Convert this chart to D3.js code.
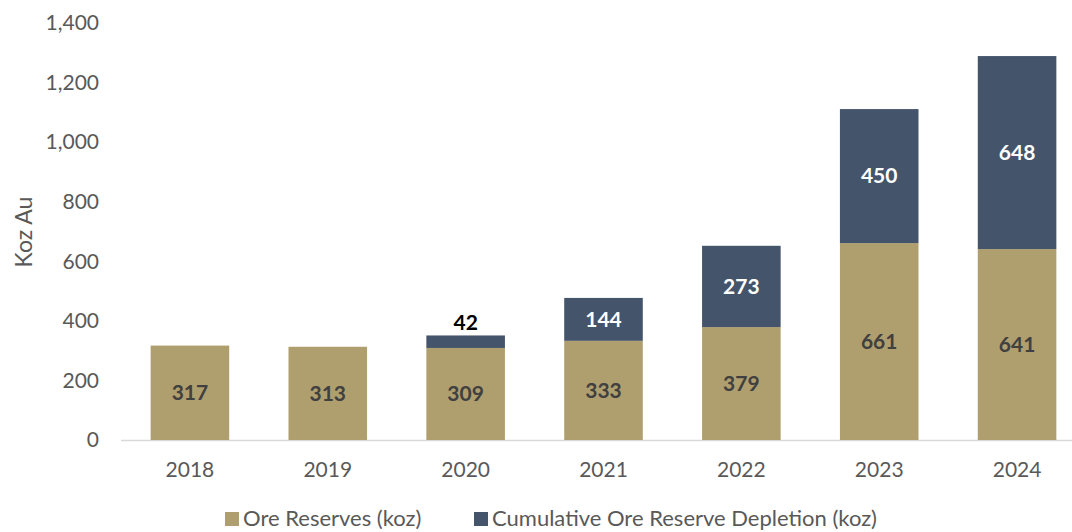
<!DOCTYPE html>
<html><head><meta charset="utf-8">
<script src="https://cdn.jsdelivr.net/npm/d3@7"></script>
<style>body{margin:0;background:#fff}svg{display:block}text{font-family:Lato,"Open Sans",sans-serif}</style>
</head><body><svg id="c" width="1072" height="532"></svg>
<script>
const years = ["2018","2019","2020","2021","2022","2023","2024"];
const oreReserves = [317,313,309,333,379,661,641];
const depletion = [null,null,42,144,273,450,648];
const yTicks = [0,200,400,600,800,1000,1200,1400];
const seriesNames = ["Ore Reserves (koz)","Cumulative Ore Reserve Depletion (koz)"];

const svg = d3.select("#c");
const x = d3.scaleBand().domain(years).range([121,1086]).paddingInner(0.43).paddingOuter(0.215);
const y = d3.scaleLinear().domain([0,1400]).range([440,23]);
const tan = "#B09F6E", navy = "#44546A";

svg.append("line").attr("x1",121).attr("x2",1072).attr("y1",y(0)+0.5).attr("y2",y(0)+0.5).attr("stroke","#D9D9D9").attr("stroke-width",1.5);

svg.selectAll(".yt").data(yTicks).enter().append("text")
  .attr("x",99).attr("y",d=>y(d)).attr("dy","0.35em").attr("text-anchor","end")
  .attr("font-size",21).attr("fill","#595959").text(d=>d3.format(",")(d));

svg.selectAll(".xt").data(years).enter().append("text")
  .attr("x",d=>x(d)+x.bandwidth()/2).attr("y",470).attr("dy","0.35em").attr("text-anchor","middle")
  .attr("font-size",21).attr("fill","#595959").text(d=>d);

svg.append("text").attr("transform","translate(32,232) rotate(-90)").attr("text-anchor","middle")
  .attr("font-size",23).attr("fill","#595959").text("Koz Au");

const data = years.map((yr,i)=>({yr, ore:oreReserves[i], dep:depletion[i]}));
svg.selectAll(".ore").data(data).enter().append("rect")
  .attr("x",d=>x(d.yr)).attr("width",x.bandwidth())
  .attr("y",d=>y(d.ore)).attr("height",d=>y(0)-y(d.ore)).attr("fill",tan);
svg.selectAll(".dep").data(data.filter(d=>d.dep!=null)).enter().append("rect")
  .attr("x",d=>x(d.yr)).attr("width",x.bandwidth())
  .attr("y",d=>y(d.ore+d.dep)).attr("height",d=>y(d.ore)-y(d.ore+d.dep)).attr("fill",navy);

svg.selectAll(".ol").data(data).enter().append("text")
  .attr("x",d=>x(d.yr)+x.bandwidth()/2).attr("y",d=>y(d.ore/2)).attr("dy","0.35em")
  .attr("text-anchor","middle").attr("font-size",21).attr("font-weight","bold").attr("fill","#404040")
  .text(d=>d.ore);
svg.selectAll(".dl").data(data.filter(d=>d.dep!=null)).enter().append("text")
  .attr("x",d=>x(d.yr)+x.bandwidth()/2)
  .attr("y",d=>d.dep<100 ? y(d.ore+d.dep)-13 : y(d.ore+d.dep/2))
  .attr("dy","0.35em").attr("text-anchor","middle").attr("font-size",21).attr("font-weight","bold")
  .attr("fill",d=>d.dep<100?"#000":"#fff").text(d=>d.dep);

const leg = [{n:seriesNames[0],c:tan,x:225},{n:seriesNames[1],c:navy,x:474}];
leg.forEach(l=>{
  svg.append("rect").attr("x",l.x).attr("y",512).attr("width",14).attr("height",14).attr("fill",l.c);
  svg.append("text").attr("x",l.x+18).attr("y",518).attr("dy","0.35em").attr("font-size",22).attr("fill","#595959").text(l.n);
});
</script></body></html>
